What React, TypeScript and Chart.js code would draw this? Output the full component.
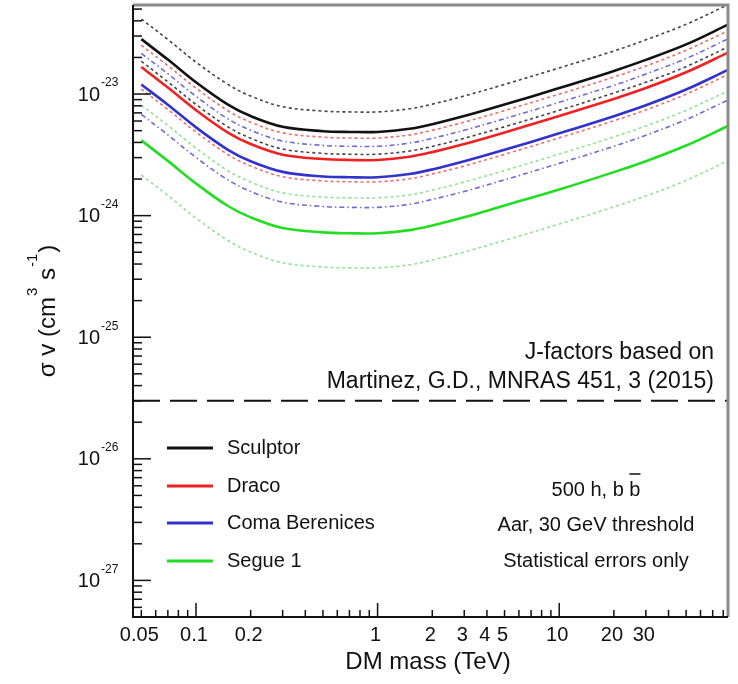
import React, { useEffect, useRef } from 'react';
import { Chart, registerables } from 'chart.js';
Chart.register(...registerables);

// ---- data (DM mass in TeV, <sigma v> in cm^3 s^-1) ----
const massTeV = [0.05, 0.07, 0.1, 0.15, 0.2, 0.3, 0.5, 0.7, 1, 1.5, 2, 3, 5, 10, 20, 30, 50, 85];

const sculptor = [2.83e-23, 1.92e-23, 1.25e-23, 8.18e-24, 6.59e-24, 5.38e-24, 4.95e-24, 4.88e-24, 4.88e-24, 5.18e-24, 5.65e-24, 6.59e-24, 8.2e-24, 1.12e-23, 1.55e-23, 1.91e-23, 2.56e-23, 3.72e-23];
const sculptorHi = [4.14e-23, 2.81e-23, 1.83e-23, 1.2e-23, 9.64e-24, 7.87e-24, 7.24e-24, 7.13e-24, 7.13e-24, 7.57e-24, 8.26e-24, 9.64e-24, 1.2e-23, 1.64e-23, 2.26e-23, 2.79e-23, 3.75e-23, 5.43e-23];
const sculptorLo = [1.86e-23, 1.26e-23, 8.22e-24, 5.37e-24, 4.33e-24, 3.53e-24, 3.25e-24, 3.2e-24, 3.2e-24, 3.4e-24, 3.71e-24, 4.33e-24, 5.38e-24, 7.35e-24, 1.02e-23, 1.25e-23, 1.68e-23, 2.44e-23];

const draco = [1.67e-23, 1.13e-23, 7.38e-24, 4.82e-24, 3.88e-24, 3.17e-24, 2.92e-24, 2.87e-24, 2.87e-24, 3.05e-24, 3.33e-24, 3.88e-24, 4.83e-24, 6.59e-24, 9.12e-24, 1.12e-23, 1.51e-23, 2.19e-23];
const dracoHi = [2.52e-23, 1.71e-23, 1.12e-23, 7.29e-24, 5.87e-24, 4.8e-24, 4.42e-24, 4.35e-24, 4.35e-24, 4.61e-24, 5.04e-24, 5.87e-24, 7.31e-24, 9.98e-24, 1.38e-23, 1.7e-23, 2.29e-23, 3.31e-23];
const dracoLo = [1.1e-23, 7.48e-24, 4.88e-24, 3.18e-24, 2.56e-24, 2.09e-24, 1.93e-24, 1.9e-24, 1.9e-24, 2.01e-24, 2.2e-24, 2.56e-24, 3.19e-24, 4.36e-24, 6.03e-24, 7.41e-24, 9.98e-24, 1.45e-23];

const comaBer = [1.2e-23, 8.17e-24, 5.32e-24, 3.48e-24, 2.8e-24, 2.29e-24, 2.1e-24, 2.07e-24, 2.07e-24, 2.2e-24, 2.4e-24, 2.8e-24, 3.48e-24, 4.75e-24, 6.58e-24, 8.09e-24, 1.09e-23, 1.58e-23];
const comaBerHi = [2.16e-23, 1.47e-23, 9.57e-24, 6.25e-24, 5.04e-24, 4.11e-24, 3.78e-24, 3.72e-24, 3.72e-24, 3.95e-24, 4.32e-24, 5.04e-24, 6.27e-24, 8.55e-24, 1.18e-23, 1.46e-23, 1.96e-23, 2.84e-23];
const comaBerLo = [6.81e-24, 4.62e-24, 3.01e-24, 1.97e-24, 1.58e-24, 1.29e-24, 1.19e-24, 1.17e-24, 1.17e-24, 1.24e-24, 1.36e-24, 1.58e-24, 1.97e-24, 2.69e-24, 3.72e-24, 4.58e-24, 6.17e-24, 8.93e-24];

const segue1 = [4.16e-24, 2.82e-24, 1.84e-24, 1.2e-24, 9.68e-25, 7.91e-25, 7.28e-25, 7.16e-25, 7.16e-25, 7.6e-25, 8.3e-25, 9.68e-25, 1.21e-24, 1.64e-24, 2.28e-24, 2.8e-24, 3.77e-24, 5.46e-24];
const segue1Hi = [8.11e-24, 5.51e-24, 3.59e-24, 2.34e-24, 1.89e-24, 1.54e-24, 1.42e-24, 1.4e-24, 1.4e-24, 1.48e-24, 1.62e-24, 1.89e-24, 2.35e-24, 3.21e-24, 4.44e-24, 5.46e-24, 7.35e-24, 1.06e-23];
const segue1Lo = [2.16e-24, 1.47e-24, 9.55e-25, 6.24e-25, 5.02e-25, 4.1e-25, 3.78e-25, 3.72e-25, 3.72e-25, 3.94e-25, 4.31e-25, 5.02e-25, 6.25e-25, 8.53e-25, 1.18e-24, 1.45e-24, 1.95e-24, 2.83e-24];

const relicValue = 3e-26;
const xMin = 0.045;
const xMax = 85;
const yMin = 5e-28;
const yMax = 5.4e-23;

const xTickLabels = [0.05, 0.1, 0.2, 1, 2, 3, 4, 5, 10, 20, 30];
const yTickExponents = [-23, -24, -25, -26, -27];

const legendNames = ['Sculptor', 'Draco', 'Coma Berenices', 'Segue 1'];
const legendColors = ['#111111', '#ee2222', '#3232cc', '#22dd22'];
const infoLines = ['500 h, b b', 'Aar, 30 GeV threshold', 'Statistical errors only'];
const refLines = ['J-factors based on', 'Martinez, G.D., MNRAS 451, 3 (2015)'];

const FONT = "'Liberation Sans', Arial, Helvetica, sans-serif";

function series(label: string, vals: number[], color: string, width: number, dash: number[]) {
  return {
    label,
    data: massTeV.map((m, i) => ({ x: m, y: vals[i] })),
    borderColor: color,
    backgroundColor: color,
    borderWidth: width,
    borderDash: dash,
    pointRadius: 0,
    fill: false,
    tension: 0.35,
  };
}

const decor = {
  id: 'decor',
  afterDraw(chart: any) {
    const { ctx, chartArea: a, scales } = chart;
    const x = scales.x;
    const y = scales.y;
    ctx.save();
    ctx.fillStyle = '#111';
    ctx.strokeStyle = '#111';

    // ticks on x (inward, bottom)
    ctx.lineWidth = 1.5;
    for (let d = -2; d <= 2; d++) {
      for (let k = 1; k <= 9; k++) {
        const v = k * Math.pow(10, d);
        if (v < xMin || v > xMax) continue;
        const px = x.getPixelForValue(v);
        const len = k === 1 ? 14 : 7;
        ctx.beginPath();
        ctx.moveTo(px, a.bottom);
        ctx.lineTo(px, a.bottom - len);
        ctx.stroke();
      }
    }
    // ticks on y (inward, left)
    for (let e = -28; e <= -22; e++) {
      for (let k = 1; k <= 9; k++) {
        const v = k * Math.pow(10, e);
        if (v < yMin || v > yMax) continue;
        const py = y.getPixelForValue(v);
        const len = k === 1 ? 18 : 9;
        ctx.beginPath();
        ctx.moveTo(a.left, py);
        ctx.lineTo(a.left + len, py);
        ctx.stroke();
      }
    }

    // frame
    ctx.lineWidth = 3;
    ctx.strokeStyle = '#8a8a8a';
    ctx.beginPath();
    ctx.moveTo(a.left, a.top);
    ctx.lineTo(a.right, a.top);
    ctx.lineTo(a.right, a.bottom);
    ctx.stroke();
    ctx.lineWidth = 2;
    ctx.strokeStyle = '#111';
    ctx.beginPath();
    ctx.moveTo(a.left, a.top);
    ctx.lineTo(a.left, a.bottom);
    ctx.lineTo(a.right, a.bottom);
    ctx.stroke();

    // x tick labels
    ctx.font = `20px ${FONT}`;
    ctx.textAlign = 'center';
    ctx.textBaseline = 'middle';
    xTickLabels.forEach((v) => {
      ctx.fillText(String(v), x.getPixelForValue(v) - 2, 635);
    });

    // y tick labels 10^n
    yTickExponents.forEach((e) => {
      const py = y.getPixelForValue(Math.pow(10, e));
      ctx.font = `20px ${FONT}`;
      ctx.textAlign = 'right';
      ctx.fillText('10', 100, py + 1);
      ctx.font = `12px ${FONT}`;
      ctx.textAlign = 'left';
      ctx.fillText(String(e), 101, py - 11);
    });

    // x title
    ctx.font = `24px ${FONT}`;
    ctx.textAlign = 'center';
    ctx.fillText('DM mass (TeV)', 428, 662);

    // y title (rotated, with superscripts)
    const parts: [string, boolean][] = [['\u03C3 v (cm', false], ['3', true], [' s', false], ['-1', true], [')', false]];
    const big = `24px ${FONT}`;
    const small = `15px ${FONT}`;
    let total = 0;
    parts.forEach(([t, sup]) => { ctx.font = sup ? small : big; total += ctx.measureText(t).width + (sup ? 2 : 0); });
    ctx.save();
    ctx.translate(48, 311);
    ctx.rotate(-Math.PI / 2);
    ctx.textAlign = 'left';
    let cx = -total / 2;
    parts.forEach(([t, sup]) => {
      ctx.font = sup ? small : big;
      const w = ctx.measureText(t).width;
      ctx.fillText(t, cx + (sup ? 1 : 0), sup ? -15 : 0);
      cx += w + (sup ? 2 : 0);
    });
    ctx.restore();

    // reference text
    ctx.font = `23px ${FONT}`;
    ctx.textAlign = 'right';
    ctx.fillText(refLines[0], 714, 353);
    ctx.fillText(refLines[1], 714, 382);

    // legend
    const legY = [448, 486, 523, 561];
    legendNames.forEach((n, i) => {
      ctx.strokeStyle = legendColors[i];
      ctx.lineWidth = 3;
      ctx.beginPath();
      ctx.moveTo(167, legY[i]);
      ctx.lineTo(213, legY[i]);
      ctx.stroke();
      ctx.font = `20px ${FONT}`;
      ctx.textAlign = 'left';
      ctx.fillStyle = '#111';
      ctx.fillText(n, 227, legY[i]);
    });

    // info text
    ctx.font = `20px ${FONT}`;
    ctx.textAlign = 'center';
    const infoY = [490, 525, 561];
    infoLines.forEach((t, i) => ctx.fillText(t, 596, infoY[i]));
    // overline on the last "b" of "b b"
    const w0 = ctx.measureText(infoLines[0]).width;
    const wb = ctx.measureText('b').width;
    const right = 596 + w0 / 2;
    ctx.strokeStyle = '#111';
    ctx.lineWidth = 1.5;
    ctx.beginPath();
    ctx.moveTo(right - wb, 474);
    ctx.lineTo(right, 474);
    ctx.stroke();

    ctx.restore();
  },
};

export default function App() {
  const ref = useRef<HTMLCanvasElement | null>(null);
  useEffect(() => {
    if (!ref.current) return;
    const dot = [3, 3];
    const dashDot = [5, 3, 1.5, 3];
    const chart = new Chart(ref.current, {
      type: 'line',
      data: {
        datasets: [
          series('Sculptor', sculptor, '#111111', 2.6, []),
          series('Draco', draco, '#ee2222', 2.6, []),
          series('Coma Berenices', comaBer, '#3232cc', 2.6, []),
          series('Segue 1', segue1, '#22dd22', 2.6, []),
          series('Sculptor hi', sculptorHi, '#444444', 1.6, dot),
          series('Sculptor lo', sculptorLo, '#444444', 1.6, dot),
          series('Draco hi', dracoHi, '#f06a6a', 1.6, dot),
          series('Draco lo', dracoLo, '#f06a6a', 1.6, dot),
          series('Coma hi', comaBerHi, '#6a6ad8', 1.6, dashDot),
          series('Coma lo', comaBerLo, '#6a6ad8', 1.6, dashDot),
          series('Segue hi', segue1Hi, '#8ee48e', 1.6, dot),
          series('Segue lo', segue1Lo, '#8ee48e', 1.6, dot),
          {
            label: 'relic',
            data: [{ x: xMin, y: relicValue }, { x: xMax, y: relicValue }],
            borderColor: '#111111',
            borderWidth: 2,
            borderDash: [27, 10],
            pointRadius: 0,
            fill: false,
          },
        ],
      },
      options: {
        responsive: false,
        animation: false,
        events: [],
        layout: { padding: { left: 133, right: 10, top: 5, bottom: 67 } },
        plugins: { legend: { display: false }, tooltip: { enabled: false } },
        scales: {
          x: { type: 'logarithmic', min: xMin, max: xMax, display: false },
          y: { type: 'logarithmic', min: yMin, max: yMax, display: false },
        },
      },
      plugins: [decor],
    });
    return () => chart.destroy();
  }, []);
  return (
    <div style={{ position: 'fixed', left: 0, top: 0, width: 738, height: 684, background: '#fff' }}>
      <canvas ref={ref} width={738} height={684} style={{ display: 'block' }} />
    </div>
  );
}
